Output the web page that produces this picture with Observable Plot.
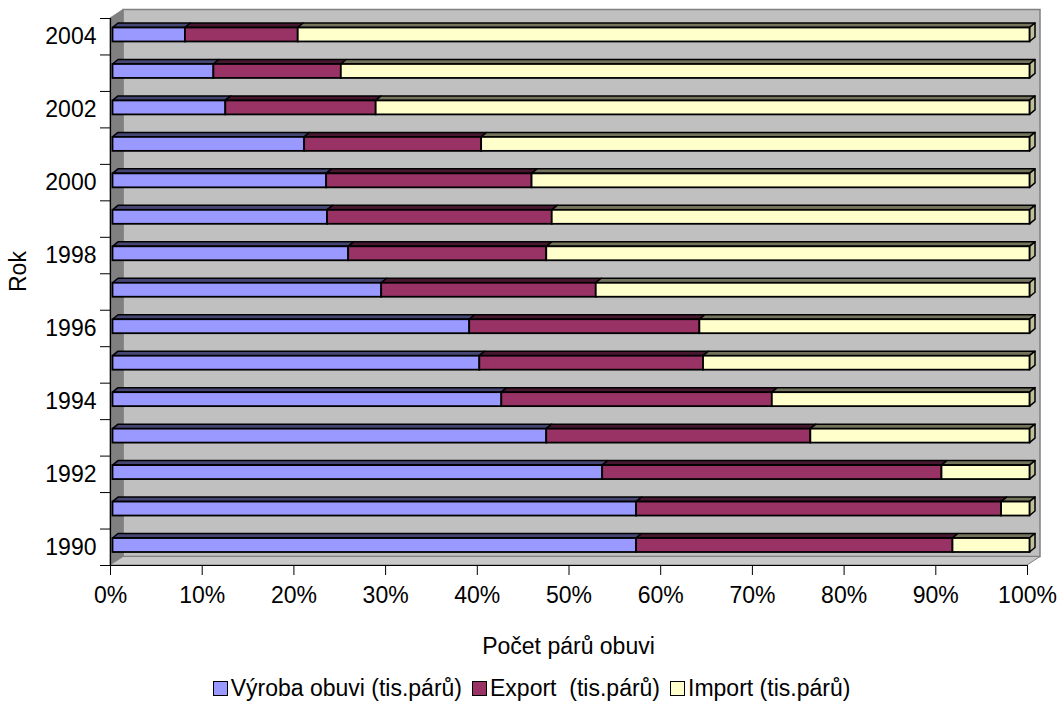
<!DOCTYPE html>
<html>
<head>
<meta charset="utf-8">
<script src="https://cdn.jsdelivr.net/npm/d3@7"></script>
<script src="https://cdn.jsdelivr.net/npm/@observablehq/plot@0.6"></script>
<style>
  body { margin: 0; background: #fff; font-family: Arial, "Liberation Sans", sans-serif; color: #000; }
  #chart { width: 1063px; }
  .xtitle { margin-left: 110px; width: 917px; text-align: center; font-size: 23px; line-height: 26px; margin-top: 8px; }
  .legend { display: flex; justify-content: center; align-items: center; font-size: 23px; line-height: 26px; margin-top: 16px; white-space: pre; }
  .legend .item { display: flex; align-items: center; margin: 0 5px; }
  .legend .sw { width: 15px; height: 15px; border: 1.5px solid #000; box-sizing: border-box; margin-right: 3px; }
</style>
</head>
<body>
<div id="chart"></div>
<script>
// Shares of shoe production, export and import (percent of pairs), 1990–2004
const years = [1990, 1991, 1992, 1993, 1994, 1995, 1996, 1997, 1998, 1999, 2000, 2001, 2002, 2003, 2004];
const seriesNames = ["Výroba obuvi (tis.párů)", "Export  (tis.párů)", "Import (tis.párů)"];
const vyroba      = [57.1, 57.1, 53.4, 47.3, 42.4, 40.0, 38.9, 29.3, 25.7, 23.4, 23.3, 20.9, 12.3, 11.0,  7.9];
const exportShare = [34.5, 39.8, 37.0, 28.8, 29.5, 24.4, 25.1, 23.4, 21.6, 24.5, 22.4, 19.3, 16.4, 13.9, 12.3];
const importShare = [ 8.4,  3.1,  9.6, 23.9, 28.1, 35.6, 36.0, 47.3, 52.7, 52.1, 54.3, 59.8, 71.3, 75.1, 79.8];
const xTicks = [0, 10, 20, 30, 40, 50, 60, 70, 80, 90, 100];
const yLabelYears = [1990, 1992, 1994, 1996, 1998, 2000, 2002, 2004];
const colors = ["#9999FF", "#993366", "#FFFFCC"];

const shares = [vyroba, exportShare, importShare];
const rows = years.flatMap((year, i) =>
  seriesNames.map((series, j) => ({year, series, value: shares[j][i]}))
);

// 3D styling (pixels)
const wallDepth = [13, -8.5];
const barFront = 2.5;
const barDepth = [5.5, -4.5];
const insetTop = 9.5, insetBottom = 13;

const poly = (pts) => "M" + pts.map((p) => p.join(",")).join("L") + "Z";

// Back wall, side wall and floor of the chart box
function walls(index, {x, y}) {
  const L = x(0), R = x(100), T = y(years[years.length - 1] + 0.5), B = y(years[0] - 0.5);
  const [dx, dy] = wallDepth;
  const g = d3.create("svg:g");
  g.append("path").attr("d", poly([[L + dx, T + dy], [R + dx, T + dy], [R + dx, B + dy], [L + dx, B + dy]]))
    .attr("fill", "#c0c0c0").attr("stroke", "#808080").attr("stroke-width", 1.5);
  g.append("path").attr("d", poly([[L, T], [L + dx, T + dy], [L + dx, B + dy], [L, B]]))
    .attr("fill", "#808080").attr("stroke", "#808080");
  g.append("path").attr("d", poly([[L, B], [L + dx, B + dy], [R + dx, B + dy], [R, B]]))
    .attr("fill", "#c8c8c8").attr("stroke", "#808080");
  return g.node();
}

// Top and end faces of each stacked bar
function barFaces(index, {x, y}) {
  const [bx, by] = barDepth;
  const g = d3.create("svg:g").attr("stroke", "#000").attr("stroke-width", 1.5).attr("stroke-linejoin", "round");
  years.forEach((year, i) => {
    const yTop = y(year + 0.5) + insetTop;
    const yBot = y(year - 0.5) - insetBottom;
    let acc = 0;
    shares.forEach((arr, j) => {
      const x1 = x(acc) + barFront;
      acc += arr[i];
      const x2 = x(acc) + barFront;
      g.append("path")
        .attr("d", poly([[x1, yTop], [x2, yTop], [x2 + bx, yTop + by], [x1 + bx, yTop + by]]))
        .attr("fill", d3.color(colors[j]).darker(2.2));
    });
    const xe = x(acc) + barFront;
    g.append("path")
      .attr("d", poly([[xe, yTop], [xe + bx, yTop + by], [xe + bx, yBot + by], [xe, yBot]]))
      .attr("fill", d3.color(colors[colors.length - 1]).darker(0.8));
  });
  return g.node();
}

const chart = Plot.plot({
  width: 1063,
  height: 625,
  marginLeft: 110,
  marginRight: 36,
  marginTop: 18,
  marginBottom: 60,
  style: {fontFamily: "Arial, 'Liberation Sans', sans-serif", fontSize: "23px", color: "#000", background: "#fff"},
  x: {domain: [0, 100]},
  y: {type: "linear", domain: [years[0] - 0.5, years[years.length - 1] + 0.5]},
  color: {domain: seriesNames, range: colors},
  marks: [
    walls,
    barFaces,
    Plot.rectX(rows, Plot.stackX({
      x: "value",
      y1: (d) => d.year - 0.5,
      y2: (d) => d.year + 0.5,
      fill: "series",
      stroke: "#000",
      strokeWidth: 1.8,
      insetTop,
      insetBottom,
      dx: barFront
    })),
    Plot.ruleX([0], {stroke: "#000", strokeWidth: 1.2}),
    Plot.ruleY([years[0] - 0.5], {stroke: "#000", strokeWidth: 1.2}),
    Plot.axisX({ticks: xTicks, tickFormat: (d) => `${d}%`, tickSize: 10, tickPadding: 11, label: null, fontSize: 23}),
    Plot.axisY({ticks: d3.range(years[0] - 0.5, years[years.length - 1] + 1, 1), tickFormat: () => "", tickSize: 10, label: null}),
    Plot.axisY({ticks: yLabelYears, tickFormat: (d) => String(d), tickSize: 0, tickPadding: 14, label: null, fontSize: 23}),
    Plot.text(["Rok"], {frameAnchor: "left", rotate: -90, dx: -92, fontSize: 23})
  ]
});

const root = document.getElementById("chart");
root.appendChild(chart);

const title = document.createElement("div");
title.className = "xtitle";
title.textContent = "Počet párů obuvi";
root.appendChild(title);

const legend = document.createElement("div");
legend.className = "legend";
seriesNames.forEach((name, j) => {
  const item = document.createElement("span");
  item.className = "item";
  const sw = document.createElement("span");
  sw.className = "sw";
  sw.style.background = colors[j];
  const label = document.createElement("span");
  label.textContent = name;
  item.append(sw, label);
  legend.appendChild(item);
});
root.appendChild(legend);
</script>
</body>
</html>
